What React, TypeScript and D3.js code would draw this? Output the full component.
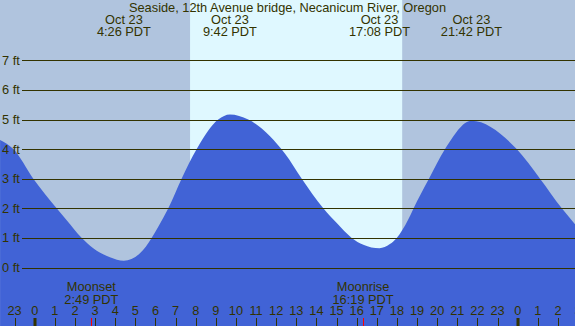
import * as d3 from 'd3'

const WIDTH = 575
const HEIGHT = 326

const title = 'Seaside, 12th Avenue bridge, Necanicum River, Oregon'

// hours since Oct 23 00:00 PDT, height in feet
const tideHours = [-1.72, -1.06, -0.07, 1.09, 1.59, 2.34, 2.91, 3.74, 4.43, 5.23, 5.81, 6.14, 6.64, 7.3, 8.05, 9.12, 9.7, 10.61, 12.44, 13.27, 14.34, 15.01, 15.75, 16.33, 17.13, 17.65, 17.99, 18.56, 18.81, 19.59, 20.39, 21.7, 23.95, 25.11, 26.19, 26.85]
const tideFeet = [4.31, 4.0, 3.0, 2.0, 1.6, 1.0, 0.65, 0.35, 0.23, 0.48, 1.0, 1.38, 2.0, 3.0, 4.0, 5.0, 5.17, 5.0, 3.84, 3.0, 2.0, 1.5, 1.0, 0.77, 0.65, 0.79, 1.0, 1.62, 1.98, 3.0, 4.0, 4.96, 4.0, 3.0, 2.0, 1.46]

const eventHours = [4.433, 9.7, 17.133, 21.7]
const eventDates = ['Oct 23', 'Oct 23', 'Oct 23', 'Oct 23']
const eventTimes = ['4:26 PDT', '9:42 PDT', '17:08 PDT', '21:42 PDT']

const moonHours = [2.817, 16.317]
const moonNames = ['Moonset', 'Moonrise']
const moonTimes = ['2:49 PDT', '16:19 PDT']

const sunrise = 7.72
const sunset = 18.26

const feetTicks = [0, 1, 2, 3, 4, 5, 6, 7]
const hourTicks = d3.range(-1, 28)

const NIGHT = '#b0c4de'
const DAY = '#dff8ff'
const WATER = '#4163d6'
const INK = '#333300'
const FONT = 'Liberation Sans, Arial, sans-serif'

export default function App() {
  const x = d3.scaleLinear().domain([0, 24]).range([34.7, 517.7])
  const y = d3.scaleLinear().domain([0, 7]).range([267.5, 60.3])

  const pts = tideHours.map((h, i) => [h, tideFeet[i]] as [number, number])
  const area = d3
    .area<[number, number]>()
    .x((d) => x(d[0]))
    .y0(HEIGHT)
    .y1((d) => y(d[1]))
    .curve(d3.curveMonotoneX)

  return (
    <svg
      width={WIDTH}
      height={HEIGHT}
      style={{ position: 'absolute', left: 0, top: 0, display: 'block' }}
      fontFamily={FONT}
      fontSize={12.8}
    >
      <rect x={0} y={0} width={WIDTH} height={HEIGHT} fill={NIGHT} />
      <rect x={x(sunrise)} y={0} width={x(sunset) - x(sunrise)} height={HEIGHT} fill={DAY} />

      <path d={area(pts) || ''} fill={WATER} />

      {/* gridlines */}
      {feetTicks.map((f) => (
        <g key={f}>
          <line x1={22} x2={WIDTH} y1={Math.round(y(f)) + 0.5} y2={Math.round(y(f)) + 0.5} stroke={INK} strokeWidth={1} />
          <text x={2} y={y(f) + 4.5} fill={INK}>{`${f} ft`}</text>
        </g>
      ))}

      {/* title and tide events */}
      <text x={WIDTH / 2} y={12} textAnchor="middle" fill={INK}>{title}</text>
      {eventHours.map((h, i) => (
        <g key={i}>
          <text x={x(h)} y={24} textAnchor="middle" fill={INK}>{eventDates[i]}</text>
          <text x={x(h)} y={36} textAnchor="middle" fill={INK}>{eventTimes[i]}</text>
        </g>
      ))}

      {/* moon events */}
      {moonHours.map((h, i) => (
        <g key={i}>
          <text x={x(h)} y={291} textAnchor="middle" fill={INK}>{moonNames[i]}</text>
          <text x={x(h)} y={304} textAnchor="middle" fill={INK}>{moonTimes[i]}</text>
          <line x1={Math.round(x(h)) + 0.5} x2={Math.round(x(h)) + 0.5} y1={318} y2={HEIGHT} stroke="#ff0000" />
        </g>
      ))}

      {/* hour axis */}
      {hourTicks.map((h) => {
        const hh = ((h % 24) + 24) % 24
        const px = Math.round(x(h))
        return (
          <g key={h}>
            <text x={x(h)} y={315} textAnchor="middle" fill={INK}>{hh}</text>
            <line
              x1={hh === 0 ? px : px + 0.5}
              x2={hh === 0 ? px : px + 0.5}
              y1={318}
              y2={HEIGHT}
              stroke={INK}
              strokeWidth={hh === 0 ? 3 : 1}
            />
          </g>
        )
      })}
    </svg>
  )
}
